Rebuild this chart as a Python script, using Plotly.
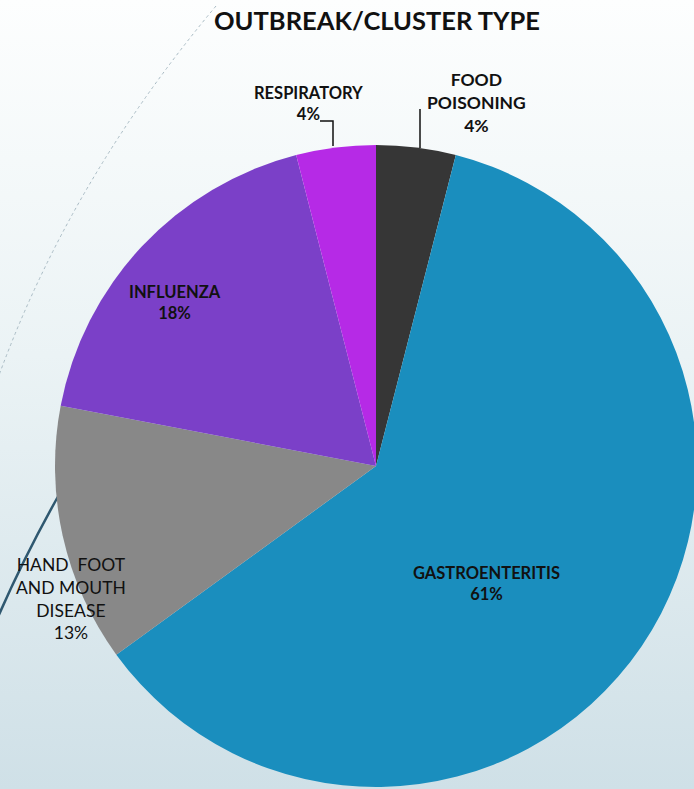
import plotly.graph_objects as go
import urllib.parse

W, H = 700, 789  # page is 694 wide; the extra pixels are clipped like the reference's pie

categories = ["FOOD POISONING", "GASTROENTERITIS", "HAND  FOOT AND MOUTH DISEASE", "INFLUENZA", "RESPIRATORY"]
values = [4, 61, 13, 18, 4]
colors = ["#363636", "#1a8ebe", "#888888", "#7b40c8", "#b62ae6"]


def px(x):
    return x / W


def py(y):
    return 1 - y / H


# pie geometry (pixels): centre (376, 466), radius 321
cx, cy, r = 376, 466, 321

fig = go.Figure(go.Pie(
    labels=categories,
    values=values,
    marker=dict(colors=colors, line=dict(width=0)),
    sort=False,
    direction="clockwise",
    rotation=0,
    textinfo="none",
    hoverinfo="label+percent",
    showlegend=False,
    domain=dict(x=[px(cx - r), px(cx + r)], y=[py(cy + r), py(cy - r)]),
))

pct = [f"{round(v * 100 / sum(values))}%" for v in values]

FAM = "Lato, 'Open Sans', sans-serif"
font_b = dict(family=FAM, size=16.5, color="#111111", weight="bold")
font_r = dict(family=FAM, size=17.5, color="#111111")

annotations = [
    dict(text="OUTBREAK/CLUSTER TYPE", x=px(377), y=py(20),
         font=dict(family=FAM, size=25.5, color="#111111", weight="bold")),
    dict(text=f"FOOD<br>POISONING<br>{pct[0]}", x=px(476), y=py(102),
         font=dict(family=FAM, size=17.5, color="#111111", weight="bold")),
    dict(text=f"GASTROENTERITIS<br>{pct[1]}", x=px(486), y=py(583), font=font_b),
    dict(text=f"HAND  FOOT<br>AND MOUTH<br>DISEASE<br>{pct[2]}", x=px(71), y=py(598), font=font_r),
    dict(text=f"INFLUENZA<br>{pct[3]}", x=px(175), y=py(302), font=font_b),
    dict(text=f"RESPIRATORY<br>{pct[4]}", x=px(308), y=py(103), font=font_b),
]
for a in annotations:
    a.update(xref="paper", yref="paper", showarrow=False, xanchor="center", yanchor="middle")

# background gradient
svg = (
    f'<svg xmlns="http://www.w3.org/2000/svg" width="{W}" height="{H}">'
    '<defs><linearGradient id="g" x1="0" y1="0" x2="0" y2="1">'
    '<stop offset="0" stop-color="#fdfefe"/>'
    '<stop offset="0.45" stop-color="#ebf3f5"/>'
    '<stop offset="1" stop-color="#cfe0e7"/>'
    '</linearGradient></defs>'
    f'<rect width="{W}" height="{H}" fill="url(#g)"/></svg>'
)
src = "data:image/svg+xml;charset=utf-8," + urllib.parse.quote(svg)

shapes = [
    # decorative dotted arc
    dict(type="path", xref="paper", yref="paper", layer="below",
         path=f"M {px(216)},{py(6)} Q {px(70)},{py(180)} {px(-2)},{py(378)}",
         line=dict(color="#a9bbc4", width=1, dash="dot")),
    # decorative dark line
    dict(type="path", xref="paper", yref="paper", layer="below",
         path=f"M {px(-2)},{py(617)} Q {px(25)},{py(555)} {px(60)},{py(493)}",
         line=dict(color="#2f5870", width=2.5)),
    # leader lines
    dict(type="line", xref="paper", yref="paper", x0=px(420), x1=px(420), y0=py(109), y1=py(148),
         line=dict(color="#111111", width=1.5)),
    dict(type="path", xref="paper", yref="paper",
         path=f"M {px(320)},{py(121)} L {px(333)},{py(121)} L {px(333)},{py(146)}",
         line=dict(color="#111111", width=1.5)),
]

fig.update_layout(
    width=W, height=H,
    margin=dict(l=0, r=0, t=0, b=0),
    paper_bgcolor="#eef5f7",
    plot_bgcolor="rgba(0,0,0,0)",
    annotations=annotations,
    shapes=shapes,
    images=[dict(source=src, xref="paper", yref="paper", x=0, y=1, sizex=1, sizey=1,
                 xanchor="left", yanchor="top", sizing="stretch", layer="below")],
)

fig.write_html(
    "out.html",
    config={"displayModeBar": False},
    post_script="document.body.style.margin='0';document.body.style.overflow='hidden';",
)
